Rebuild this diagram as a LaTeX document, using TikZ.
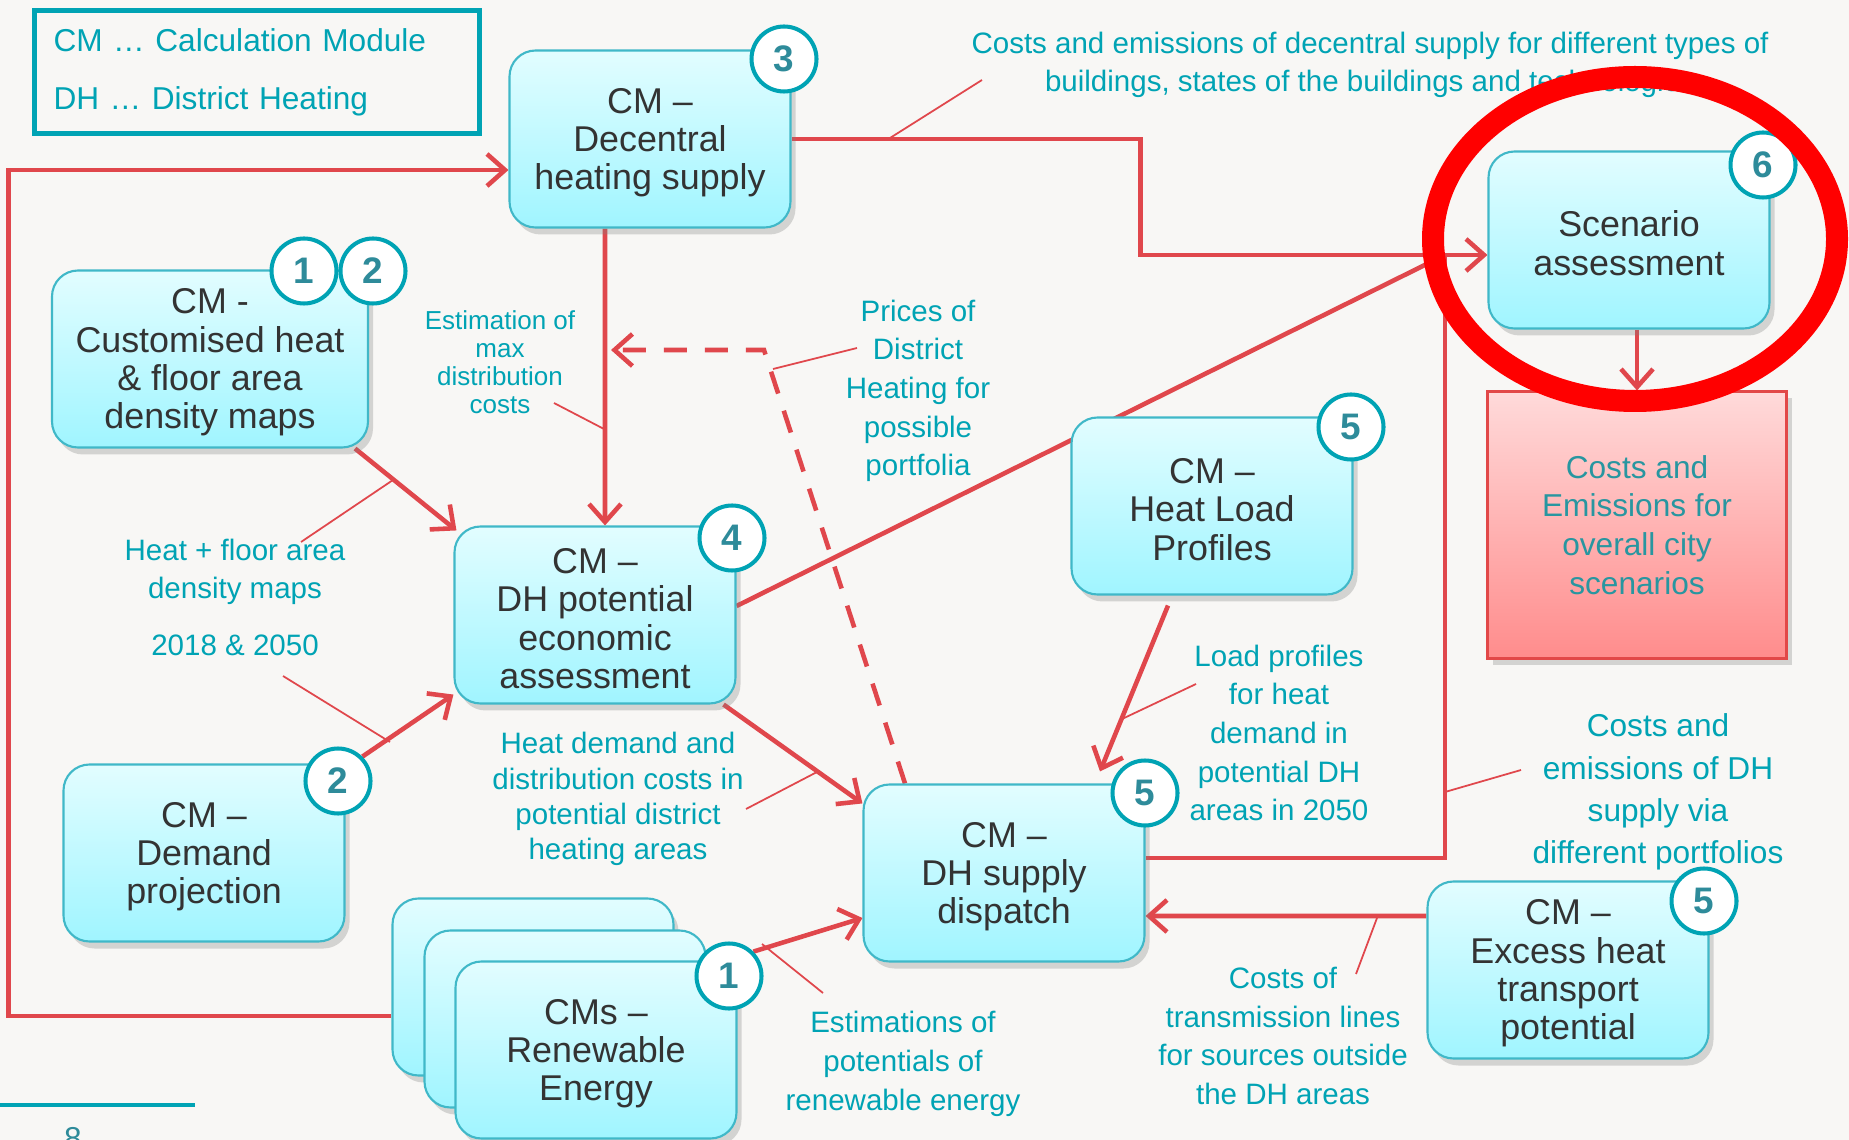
\documentclass[tikz,border=0pt]{standalone}
\usepackage{fontspec}
\setmainfont{Liberation Sans}
\usetikzlibrary{arrows.meta}
\usetikzlibrary{positioning}
\usetikzlibrary{shadows}
\usetikzlibrary{backgrounds}
\definecolor{paper}{RGB}{248,247,245}
\definecolor{flowred}{RGB}{224,71,76}
\definecolor{cmteal}{RGB}{0,163,180}
\definecolor{numteal}{RGB}{46,139,154}
\definecolor{boxtop}{RGB}{226,253,255}
\definecolor{boxbot}{RGB}{160,245,255}
\definecolor{boxline}{RGB}{64,184,200}
\definecolor{restop}{RGB}{255,218,218}
\definecolor{resbot}{RGB}{255,140,140}
\definecolor{resline}{RGB}{226,72,72}
\definecolor{restext}{RGB}{40,150,160}
\definecolor{boxtext}{RGB}{51,51,51}
\newcommand{\topstrut}{\rule{0pt}{0.9em}}

\begin{document}
\begin{tikzpicture}[x=0.1mm,y=-0.1mm,>={Straight Barb[length=1.8mm,width=3.2mm]}]
	\tikzset{cmbox/.style = {shape=rectangle, rounded corners=2.6mm, draw=boxline, line width=0.6pt, top color=boxtop, bottom color=boxbot, text=boxtext, align=center, minimum width=28.1mm, minimum height=17.7mm, inner sep=0pt, font=\fontsize{10.2}{10.9}\selectfont, drop shadow={shadow xshift=0.5mm, shadow yshift=-0.7mm, opacity=0.3}}}
	\tikzset{num/.style = {shape=circle, draw=cmteal, line width=1.15pt, fill=white, minimum size=6.5mm, inner sep=0pt, text=numteal, font=\fontsize{10.5}{10.5}\selectfont\bfseries}}
	\tikzset{flow/.style = {->, draw=flowred, line width=1.3pt}}
	\tikzset{lead/.style = {draw=flowred, line width=0.5pt}}
	\tikzset{lbl/.style = {text=cmteal, align=center, font=\fontsize{8.4}{11}\selectfont}}
	\useasboundingbox (0,0) rectangle (1849,1140);
	\begin{scope}[on background layer]
		\fill[paper] (0,0) rectangle (1849,1140);
	\end{scope}

	\node[draw=cmteal, line width=1.15pt, align=left, text=cmteal, text width=40.7mm, inner xsep=1.9mm, minimum height=12.3mm, font=\fontsize{9}{16.5}\selectfont] (legend) at (257,72) {CM … Calculation Module\\DH … District Heating};

	\node[cmbox] (dec) at (650,139) {\topstrut CM –\\Decentral\\heating supply};
	\node[cmbox, minimum width=31.6mm] (cust) at (210,359) {\topstrut CM -\\Customised heat\\\& floor area\\density maps};
	\node[cmbox] (pot) at (595,615) {\topstrut CM –\\DH potential\\economic\\assessment};
	\node[cmbox] (dem) at (204,853) {\topstrut CM –\\Demand\\projection};
	\node[cmbox] (ren1) at (533,987) {};
	\node[cmbox] (ren2) at (565,1019) {};
	\node[cmbox] (ren3) at (596,1050) {\topstrut CMs –\\Renewable\\Energy};
	\node[cmbox] (disp) at (1004,873) {\topstrut CM –\\DH supply\\dispatch};
	\node[cmbox] (hlp) at (1212,506) {\topstrut CM –\\Heat Load\\Profiles};
	\node[cmbox] (exc) at (1568,970) {\topstrut CM –\\Excess heat\\transport\\potential};
	\node[cmbox] (scen) at (1629,240) {\topstrut Scenario\\assessment};
	\node[shape=rectangle, draw=resline, line width=0.6pt, top color=restop, bottom color=resbot, text=restext, align=center, minimum width=29.9mm, minimum height=26.7mm, font=\fontsize{9}{11}\selectfont, drop shadow={shadow xshift=0.5mm, shadow yshift=-0.7mm, opacity=0.3}] (res) at (1637,525) {Costs and\\Emissions for\\overall city\\scenarios};

	\node[num] (n3) at (784,59) {3};
	\node[num] (n1a) at (304,271) {1};
	\node[num] (n2a) at (373,271) {2};
	\node[num] (n4) at (732,538) {4};
	\node[num] (n2b) at (338,781) {2};
	\node[num] (n1b) at (729,976) {1};
	\node[num] (n5a) at (1145,793) {5};
	\node[num] (n5b) at (1351,427) {5};
	\node[num] (n5c) at (1704,901) {5};
	\node[num] (n6) at (1763,165) {6};

	\coordinate (jn) at (1445,255);
	\coordinate (pk) at (764,350);
	\coordinate (dv) at (611,350);
	\begin{scope}[on background layer]
		\draw[flow] ([yshift=-2.9mm]ren1.west) -| ([xshift=-50mm,yshift=-3.1mm]dec.west) -- ([yshift=-3.1mm]dec.west);
		\draw[flow] (dec.east) -- ++(349,0) |- ([yshift=-1.5mm]scen.west);
		\draw[flow] ([xshift=-4.5mm]dec.south) -- ([xshift=1mm]pot.north);
		\draw[flow, dash pattern=on 2.3mm off 1.8mm] ([xshift=-9.9mm]disp.north) -- (pk) -- (dv);
		\draw[flow] ([xshift=-1.4mm]cust.south east) -- ([shift={(0.3mm,-0.5mm)}]pot.north west);
		\draw[flow] (n2b.north east) -- ([yshift=1mm]pot.south west);
		\draw[flow, -] ([yshift=0.9mm]pot.east) -- (jn);
		\draw[flow] ([xshift=-1.3mm]pot.south east) -- ([yshift=-2mm]disp.north west);
		\draw[flow] ([shift={(-4.4mm,-1mm)}]hlp.south) -- ([shift={(9.6mm,1.2mm)}]disp.north);
		\draw[flow, -] ([yshift=1.5mm]disp.east) -| (jn);
		\draw[flow] ([yshift=5.4mm]exc.west) -- ([yshift=-4.3mm]disp.east);
		\draw[flow] (n1b.north east) -- ([yshift=-4.5mm]disp.west);
		\draw[flow] (scen.south -| res.north) -- (res.north);
	\end{scope}

	\node[lbl] (lblDec) at (1370,65) {Costs and emissions of decentral supply for different types of\\buildings, states of the buildings and technologies};
	\node[lbl, font=\fontsize{7.4}{8}\selectfont] (lblMax) at (500,362) {Estimation of\\max\\distribution\\costs};
	\node[lbl] (lblPrice) at (918,391) {Prices of\\District\\Heating for\\possible\\portfolia};
	\node[lbl, font=\fontsize{8.4}{10.7}\selectfont] (lblMaps) at (235,572) {Heat + floor area\\density maps};
	\node[lbl] (lblYears) at (235,645) {2018 \& 2050};
	\node[lbl, font=\fontsize{8.4}{10}\selectfont] (lblDemand) at (618,799) {Heat demand and\\distribution costs in\\potential district\\heating areas};
	\node[lbl] (lblLoad) at (1279,733) {Load profiles\\for heat\\demand in\\potential DH\\areas in 2050};
	\node[lbl, font=\fontsize{9}{12}\selectfont] (lblPort) at (1658,792) {Costs and\\emissions of DH\\supply via\\different portfolios};
	\node[lbl] (lblTrans) at (1283,1036) {Costs of\\transmission lines\\for sources outside\\the DH areas};
	\node[lbl] (lblRen) at (903,1064) {Estimations of\\potentials of\\renewable energy};

	\draw[lead] (982,80) -- (890,138);
	\draw[lead] (554,403) -- (604,429);
	\draw[lead] (857,348) -- (773,369);
	\draw[lead] (301,542) -- (393,480);
	\draw[lead] (283,676) -- (390,742);
	\draw[lead] (746,809) -- (817,772);
	\draw[lead] (1196,684) -- (1122,719);
	\draw[lead] (1521,770) -- (1445,792);
	\draw[lead] (1377,918) -- (1356,974);
	\draw[lead] (823,993) -- (762,944);

	\draw[cmteal, line width=1.4pt] (0,1105) -- (195,1105);
	\node[text=numteal, font=\fontsize{9}{9}\selectfont] (page) at (73,1139) {8};

	\draw[red, line width=2.2mm] (1635,239) ellipse [x radius=20.2mm, y radius=16.2mm];
\end{tikzpicture}
\end{document}
